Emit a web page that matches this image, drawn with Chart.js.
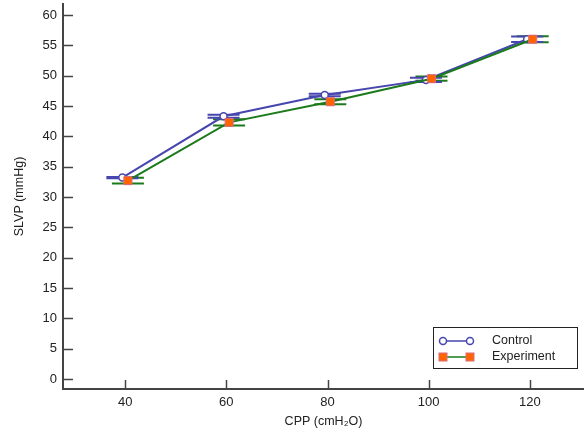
<!DOCTYPE html>
<html lang="en">
  <head>
    <meta charset="UTF-8" />
    <title>SLVP vs CPP</title>
    <script src="https://cdn.jsdelivr.net/npm/chart.js"></script>
    <style>
      body { margin: 0; background: #fff; }
      #wrap { width: 584px; height: 435px; position: relative; }
    </style>
  </head>
  <body>
    <div id="wrap"><canvas id="myChart"></canvas></div>

    <script>
      // data
      var cpp = [40, 60, 80, 100, 120];
      var controlMean = [33.2, 43.3, 46.8, 49.3, 56.0];
      var controlErr = [0.1, 0.25, 0.2, 0.35, 0.45];
      var expMean = [32.7, 42.3, 45.7, 49.5, 56.0];
      var expErr = [0.47, 0.5, 0.4, 0.35, 0.5];
      var xTicks = [40, 60, 80, 100, 120];
      var yTicks = [0, 5, 10, 15, 20, 25, 30, 35, 40, 45, 50, 55, 60];

      var BLUE = "#4646ae";
      var GREEN = "#1b7a1b";
      var ORANGE = "#ff6400";
      var PINK = "#dc6a7a";
      var AXIS = "#444";
      var FONT = "'Liberation Sans', Arial, sans-serif";
      var OFFSET = 0.55; // groups are nudged sideways a little

      function pts(means, shift) {
        return cpp.map(function (x, i) {
          return { x: x + shift, y: means[i] };
        });
      }

      // error bar caps, drawn under the markers
      var errorBars = {
        id: "errorBars",
        beforeDatasetsDraw: function (chart) {
          var ctx = chart.ctx;
          var xs = chart.scales.x, ys = chart.scales.y;
          var groups = [
            { means: expMean, errs: expErr, shift: OFFSET, color: GREEN },
            { means: controlMean, errs: controlErr, shift: -OFFSET, color: BLUE },
          ];
          ctx.save();
          groups.forEach(function (g) {
            ctx.strokeStyle = g.color;
            ctx.lineWidth = 2;
            cpp.forEach(function (x, i) {
              var px = xs.getPixelForValue(x + g.shift);
              var top = ys.getPixelForValue(g.means[i] + g.errs[i]);
              var bot = ys.getPixelForValue(g.means[i] - g.errs[i]);
              ctx.beginPath();
              ctx.moveTo(px, top); ctx.lineTo(px, bot);
              ctx.moveTo(px - 16, top); ctx.lineTo(px + 16, top);
              ctx.moveTo(px - 16, bot); ctx.lineTo(px + 16, bot);
              ctx.stroke();
            });
          });
          ctx.restore();
        },
      };

      // inward tick marks and the boxed legend
      var extras = {
        id: "extras",
        afterDraw: function (chart) {
          var ctx = chart.ctx;
          var xs = chart.scales.x, ys = chart.scales.y;
          var area = chart.chartArea;
          ctx.save();
          ctx.strokeStyle = AXIS;
          ctx.lineWidth = 1.5;
          yTicks.forEach(function (v) {
            var py = Math.round(ys.getPixelForValue(v)) + 0.5;
            ctx.beginPath();
            ctx.moveTo(area.left, py); ctx.lineTo(area.left + 10, py);
            ctx.stroke();
          });
          xTicks.forEach(function (v) {
            var px = Math.round(xs.getPixelForValue(v)) + 0.5;
            ctx.beginPath();
            ctx.moveTo(px, area.bottom); ctx.lineTo(px, area.bottom - 9);
            ctx.stroke();
          });

          // legend
          ctx.strokeStyle = "#222";
          ctx.lineWidth = 1;
          ctx.strokeRect(433.5, 327.5, 144, 41);
          ctx.font = "12.5px " + FONT;
          ctx.fillStyle = "#222";
          ctx.textBaseline = "middle";
          ctx.textAlign = "left";

          var rows = [
            { label: "Control", y: 341, color: BLUE, circle: true },
            { label: "Experiment", y: 357, color: GREEN, circle: false },
          ];
          rows.forEach(function (r) {
            ctx.strokeStyle = r.color;
            ctx.lineWidth = 1.5;
            ctx.beginPath();
            ctx.moveTo(443, r.y); ctx.lineTo(470, r.y);
            ctx.stroke();
            [443, 470].forEach(function (mx) {
              if (r.circle) {
                ctx.beginPath();
                ctx.arc(mx, r.y, 3.5, 0, Math.PI * 2);
                ctx.fillStyle = "#fff";
                ctx.fill();
                ctx.strokeStyle = BLUE;
                ctx.stroke();
              } else {
                ctx.fillStyle = ORANGE;
                ctx.fillRect(mx - 4, r.y - 4, 8, 8);
                ctx.strokeStyle = PINK;
                ctx.lineWidth = 1;
                ctx.strokeRect(mx - 4, r.y - 4, 8, 8);
              }
            });
            ctx.fillStyle = "#222";
            ctx.fillText(r.label, 492, r.y);
          });
          ctx.restore();
        },
      };

      var ctx = document.getElementById("myChart").getContext("2d");
      window.myChart = new Chart(ctx, {
        type: "line",
        data: {
          datasets: [
            {
              label: "Control",
              data: pts(controlMean, -OFFSET),
              borderColor: BLUE,
              borderWidth: 2,
              pointStyle: "circle",
              pointRadius: 3.5,
              pointBorderWidth: 1.5,
              pointBackgroundColor: "#fff",
              pointBorderColor: BLUE,
              fill: false,
              order: 2,
            },
            {
              label: "Experiment",
              data: pts(expMean, OFFSET),
              borderColor: GREEN,
              borderWidth: 2,
              pointStyle: "rect",
              pointRadius: 5.7,
              pointBorderWidth: 1,
              pointBackgroundColor: ORANGE,
              pointBorderColor: PINK,
              fill: false,
              order: 1,
            },
          ],
        },
        options: {
          responsive: true,
          maintainAspectRatio: false,
          animation: false,
          devicePixelRatio: 1,
          layout: {
            autoPadding: false,
            padding: { top: 4, right: 0, left: 0, bottom: 0 },
          },
          scales: {
            x: {
              type: "linear",
              min: 27.72,
              max: 130.69,
              afterBuildTicks: function (scale) {
                scale.ticks = xTicks.map(function (v) { return { value: v }; });
              },
              afterFit: function (scale) {
                scale.height = 46;
                scale.paddingLeft = 0;
                scale.paddingRight = 0;
              },
              grid: { display: false, drawTicks: false },
              border: { display: true, color: AXIS, width: 2 },
              ticks: {
                padding: 6,
                maxRotation: 0,
                color: "#222",
                font: { family: FONT, size: 13 },
              },
              title: {
                display: true,
                text: "CPP (cmH\u2082O)",
                color: "#222",
                font: { family: FONT, size: 12.5 },
                padding: { top: 0, bottom: 6 },
              },
            },
            y: {
              type: "linear",
              min: -1.65,
              max: 61.81,
              afterBuildTicks: function (scale) {
                scale.ticks = yTicks.map(function (v) { return { value: v }; });
              },
              afterFit: function (scale) {
                scale.width = 63;
                scale.paddingTop = 0;
                scale.paddingBottom = 0;
              },
              grid: { display: false, drawTicks: false },
              border: { display: true, color: AXIS, width: 2 },
              ticks: {
                padding: 6,
                color: "#222",
                font: { family: FONT, size: 13 },
              },
              title: {
                display: true,
                text: "SLVP (mmHg)",
                color: "#222",
                font: { family: FONT, size: 12.5 },
                padding: { top: 12, bottom: 0 },
              },
            },
          },
          plugins: {
            legend: { display: false },
            tooltip: { enabled: false },
          },
        },
        plugins: [errorBars, extras],
      });
    </script>
  </body>
</html>
